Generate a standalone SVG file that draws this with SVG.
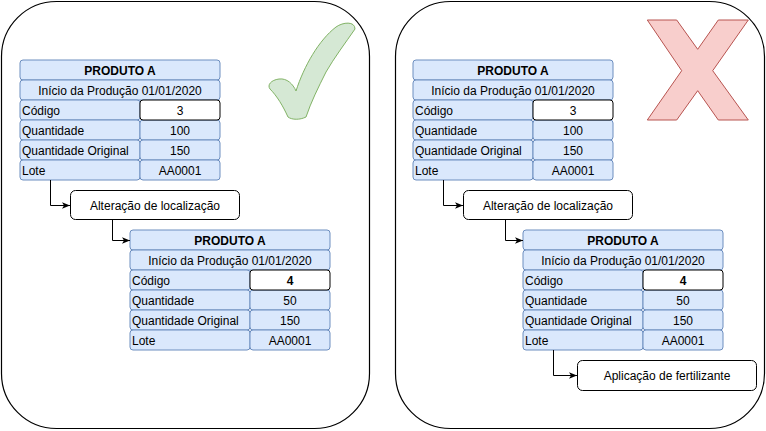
<svg xmlns="http://www.w3.org/2000/svg" width="766" height="431" viewBox="0 0 766 431">
<style>
text{font-family:"Liberation Sans",Arial,sans-serif;font-size:12px;fill:#000}
.panel{fill:#fff;stroke:#000;stroke-width:1.2}
.cell{fill:#dae8fc;stroke:#6c8ebf;stroke-width:1}
.val{fill:#fff;stroke:#000;stroke-width:1}
.box{fill:#fff;stroke:#000;stroke-width:1}
.c{text-anchor:middle}
.b{font-weight:bold}
.edge{fill:none;stroke:#000;stroke-width:1}
</style>
<defs>
<marker id="arr" viewBox="0 0 10 10" refX="10" refY="5" markerWidth="8" markerHeight="8" markerUnits="userSpaceOnUse" orient="auto">
<path d="M0,1 L10,5 L0,9 L2.5,5 Z" fill="#000"/>
</marker>
<g id="table">
<rect class="cell" x="0" y="0" width="200" height="20" rx="3"/>
<text class="c b" x="100" y="14.5">PRODUTO A</text>
<rect class="cell" x="0" y="20" width="200" height="20" rx="3"/>
<text class="c" x="100" y="34.5">Início da Produção 01/01/2020</text>
<rect class="cell" x="0" y="40" width="120" height="20" rx="3"/>
<text x="2" y="54.5">Código</text>
<rect class="cell" x="0" y="60" width="120" height="20" rx="3"/>
<text x="2" y="74.5">Quantidade</text>
<rect class="cell" x="120" y="60" width="80" height="20" rx="3"/>
<rect class="cell" x="0" y="80" width="120" height="20" rx="3"/>
<text x="2" y="94.5">Quantidade Original</text>
<rect class="cell" x="120" y="80" width="80" height="20" rx="3"/>
<text class="c" x="160" y="94.5">150</text>
<rect class="cell" x="0" y="100" width="120" height="20" rx="3"/>
<text x="2" y="114.5">Lote</text>
<rect class="cell" x="120" y="100" width="80" height="20" rx="3"/>
<text class="c" x="160" y="114.5">AA0001</text>
<rect class="val" x="120" y="40" width="80" height="20" rx="3"/>
</g>
</defs>

<g id="panel-ok">
<rect class="panel" x="1.5" y="1.5" width="368" height="427" rx="55"/>
</g>
<g id="panel-fail">
<rect class="panel" x="395.5" y="1.5" width="369" height="427" rx="55"/>
</g>

<g id="check">
<path d="M288,117 C283,106 277,96 270,89 C267,85 271,80 279,79 C287,78 293,84 296,91 C304,66 319,40 336,27 C343,22 355,21 355,29 C346,42 334,58 326,72 C318,88 311,102 306,117 C300,120 292,120 288,117 Z" fill="#d5e8d4" stroke="#82b366" stroke-width="1"/>
</g>
<g id="cross">
<path d="M647.3,20 L676.7,20 L697.7,49.3 L718.3,20 L748.3,20 L712.7,70.7 L748.3,120 L718.3,120 L697.7,90.7 L676.7,120 L647.3,120 L681.7,70.7 Z" fill="#f8cecc" stroke="#b85450" stroke-width="1"/>
</g>

<g id="table-ok-1" transform="translate(20,60)">
<use href="#table"/>
<text class="c" x="160" y="54.5">3</text>
<text class="c" x="160" y="74.5">100</text>
</g>
<g id="table-ok-2" transform="translate(130,230)">
<use href="#table"/>
<text class="c b" x="160" y="54.5">4</text>
<text class="c" x="160" y="74.5">50</text>
</g>
<g id="table-fail-1" transform="translate(413,60)">
<use href="#table"/>
<text class="c" x="160" y="54.5">3</text>
<text class="c" x="160" y="74.5">100</text>
</g>
<g id="table-fail-2" transform="translate(523,230)">
<use href="#table"/>
<text class="c b" x="160" y="54.5">4</text>
<text class="c" x="160" y="74.5">50</text>
</g>

<g id="box-ok">
<rect class="box" x="70.5" y="190.5" width="169" height="29" rx="5"/>
<text class="c" x="155" y="209.5">Alteração de localização</text>
</g>
<g id="box-fail">
<rect class="box" x="463.5" y="190.5" width="169" height="29" rx="5"/>
<text class="c" x="548" y="209.5">Alteração de localização</text>
</g>
<g id="box-fert">
<rect class="box" x="577.5" y="360.5" width="179" height="30" rx="5"/>
<text class="c" x="667" y="380">Aplicação de fertilizante</text>
</g>

<g id="connectors">
<path class="edge" d="M50.5,180 V205.5 H70" marker-end="url(#arr)"/>
<path class="edge" d="M112.5,220 V240.5 H130" marker-end="url(#arr)"/>
<path class="edge" d="M443.5,180 V205.5 H463" marker-end="url(#arr)"/>
<path class="edge" d="M505.5,220 V240.5 H523" marker-end="url(#arr)"/>
<path class="edge" d="M553.5,350 V375.5 H577" marker-end="url(#arr)"/>
</g>
</svg>
